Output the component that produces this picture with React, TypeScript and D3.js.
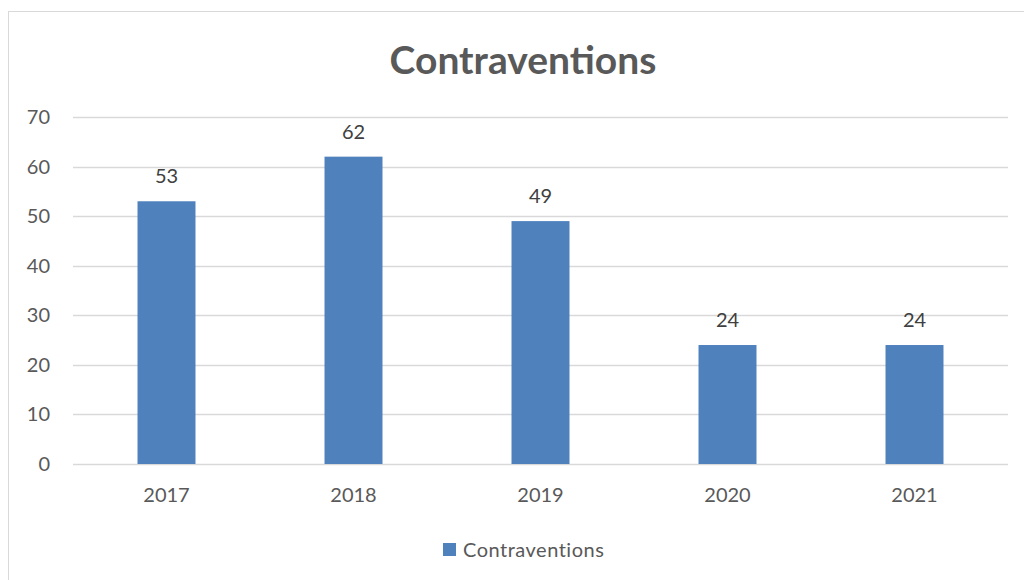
import { useEffect, useRef } from 'react'
import * as d3 from 'd3'

const years = ['2017', '2018', '2019', '2020', '2021']
const contraventions = [53, 62, 49, 24, 24]
const yTicks = [0, 10, 20, 30, 40, 50, 60, 70]
const seriesName = 'Contraventions'

export default function App() {
  const svgRef = useRef<SVGSVGElement>(null)

  useEffect(() => {
    if (!svgRef.current) return
    const svg = d3.select(svgRef.current)
    svg.selectAll('*').remove()

    const font = 'Lato, "Open Sans", sans-serif'
    const left = 73
    const right = 1008
    const top = 117
    const bottom = 464

    // chart frame
    svg.append('rect')
      .attr('x', 8.5)
      .attr('y', 11.5)
      .attr('width', 1030)
      .attr('height', 590)
      .attr('fill', '#fff')
      .attr('stroke', '#d9d9d9')

    svg.append('text')
      .attr('x', 523)
      .attr('y', 60)
      .attr('dy', '0.35em')
      .attr('text-anchor', 'middle')
      .attr('font-family', font)
      .attr('font-weight', 'bold')
      .attr('font-size', 39)
      .attr('fill', '#595959')
      .text(seriesName)

    const x = d3.scaleBand().domain(years).range([left, right]).paddingInner(0.69).paddingOuter(0.345)
    const y = d3.scaleLinear().domain([0, 70]).range([bottom, top])

    const grid = svg.append('g')
    grid.selectAll('line')
      .data(yTicks)
      .join('line')
      .attr('x1', left)
      .attr('x2', right)
      .attr('y1', d => Math.round(y(d)) + 0.5)
      .attr('y2', d => Math.round(y(d)) + 0.5)
      .attr('stroke', '#d9d9d9')
      .attr('stroke-width', 1.5)

    grid.selectAll('text')
      .data(yTicks)
      .join('text')
      .attr('x', 50)
      .attr('y', d => y(d))
      .attr('dy', '0.35em')
      .attr('text-anchor', 'end')
      .attr('font-family', font)
      .attr('font-size', 20)
      .attr('fill', '#595959')
      .text(d => d)

    svg.append('g')
      .selectAll('rect')
      .data(contraventions)
      .join('rect')
      .attr('x', (_, i) => x(years[i])!)
      .attr('y', d => y(d))
      .attr('width', x.bandwidth())
      .attr('height', d => bottom - y(d))
      .attr('fill', '#4f81bd')

    svg.append('g')
      .selectAll('text')
      .data(contraventions)
      .join('text')
      .attr('x', (_, i) => x(years[i])! + x.bandwidth() / 2)
      .attr('y', d => y(d) - 25)
      .attr('dy', '0.35em')
      .attr('text-anchor', 'middle')
      .attr('font-family', font)
      .attr('font-size', 20)
      .attr('fill', '#404040')
      .text(d => d)

    svg.append('g')
      .selectAll('text')
      .data(years)
      .join('text')
      .attr('x', d => x(d)! + x.bandwidth() / 2)
      .attr('y', 495)
      .attr('dy', '0.35em')
      .attr('text-anchor', 'middle')
      .attr('font-family', font)
      .attr('font-size', 20)
      .attr('fill', '#595959')
      .text(d => d)

    const legend = svg.append('g').attr('transform', 'translate(443,543)')
    legend.append('rect').attr('width', 13).attr('height', 13).attr('fill', '#4f81bd')
    legend.append('text')
      .attr('x', 20)
      .attr('y', 6.5)
      .attr('dy', '0.35em')
      .attr('font-family', font)
      .attr('font-size', 20)
      .attr('letter-spacing', 0.5)
      .attr('fill', '#595959')
      .text(seriesName)
  }, [])

  return (
    <svg
      ref={svgRef}
      width={1024}
      height={580}
      style={{ position: 'absolute', left: 0, top: 0, display: 'block' }}
    />
  )
}
